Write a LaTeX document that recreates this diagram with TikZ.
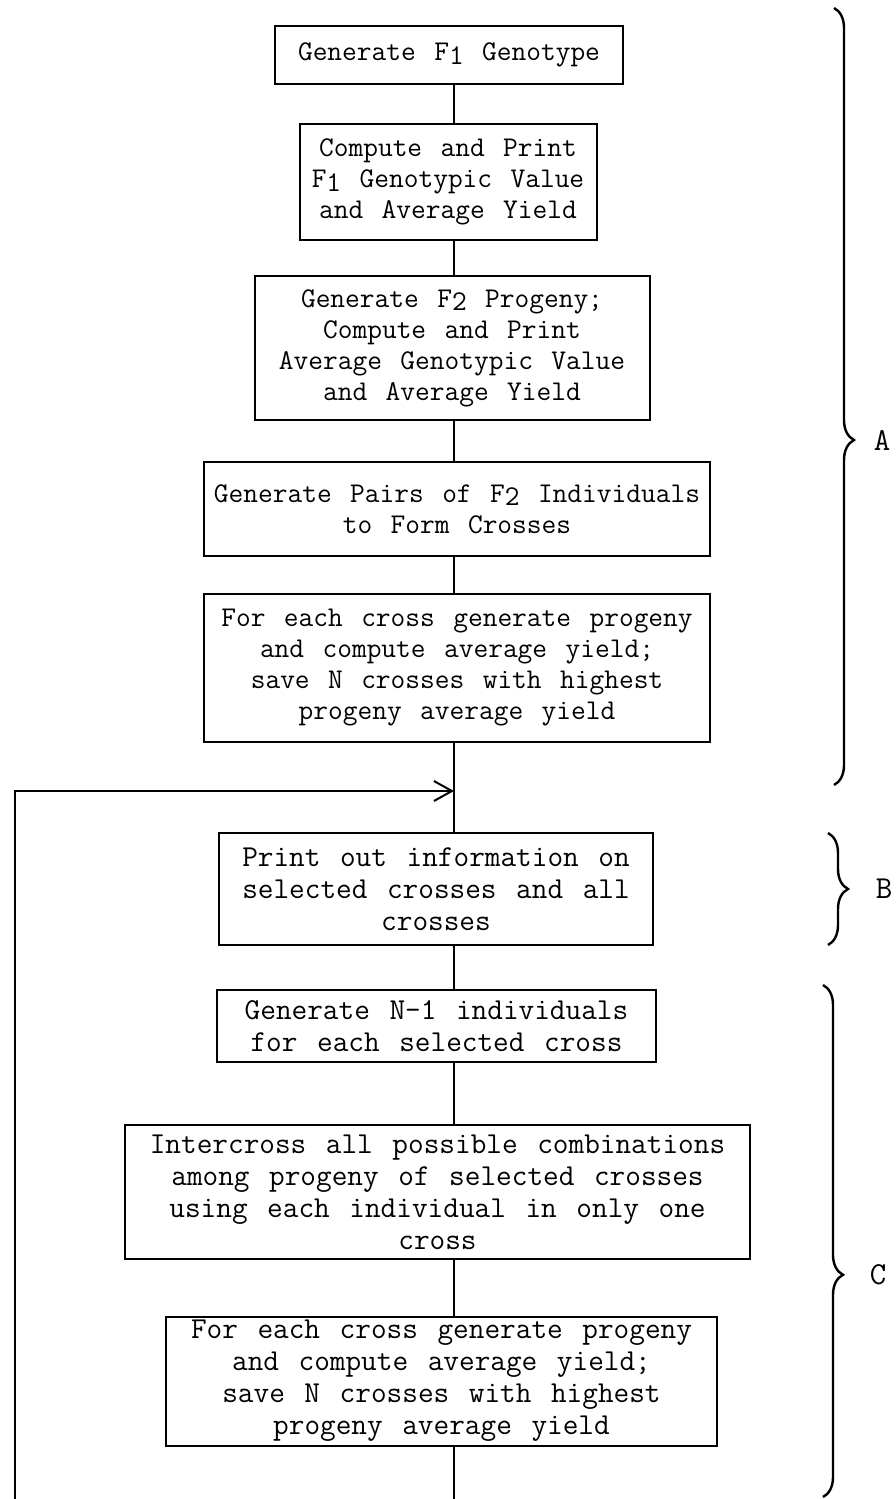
\documentclass[tikz,border=0pt]{standalone}
\usepackage{fontspec}
\newfontfamily\typer{Latin Modern Mono}[WordSpace=1.25]
\usepackage{tikz}
\usetikzlibrary{arrows.meta,decorations.pathreplacing}

\newcommand{\Fsub}[1]{F\raisebox{-0.3ex}{#1}}

\begin{document}
\begin{tikzpicture}[x=0.5pt,y=-0.5pt]
	\tikzstyle{box}=[rectangle,draw,line width=1pt,align=center,inner sep=0pt,font=\typer\fontsize{14.3}{15.5}\selectfont]
	\tikzstyle{lowbox}=[box,font=\typer\fontsize{15.2}{16}\selectfont]
	\tikzstyle{flow}=[line width=0.8pt]
	\tikzstyle{back}=[line width=1pt,-{Straight Barb[length=9pt,width=10pt]}]
	\tikzstyle{brc}=[decorate,decoration={brace,amplitude=10pt},line width=1.2pt]
	\tikzstyle{tag}=[font=\typer\fontsize{16}{18}\selectfont]
	\useasboundingbox (0,0) rectangle (895,1499);
	\node (b1) at (449,55)     [box,minimum width=174pt,minimum height=29pt] {Generate \Fsub{1} Genotype};
	\node (b2) at (448,182)    [box,minimum width=148.5pt,minimum height=58pt] {Compute and Print\\\Fsub{1} Genotypic Value\\and Average Yield};
	\node (b3) at (452,348)    [box,minimum width=197.5pt,minimum height=72pt] {Generate \Fsub{2} Progeny;\\Compute and Print\\Average Genotypic Value\\and Average Yield};
	\node (b4) at (457,509)    [box,minimum width=253pt,minimum height=47pt] {Generate Pairs of \Fsub{2} Individuals\\to Form Crosses};
	\node (b5) at (457,668)    [box,minimum width=253pt,minimum height=74pt] {For each cross generate progeny\\and compute average yield;\\save N crosses with highest\\progeny average yield};
	\node (b6) at (436,889)    [lowbox,minimum width=217pt,minimum height=56pt] {Print out information on\\selected crosses and all\\crosses};
	\node (b7) at (436.5,1026) [lowbox,minimum width=219.5pt,minimum height=36pt] {Generate N-1 individuals\\for each selected cross};
	\node (b8) at (437.5,1192) [lowbox,minimum width=312.5pt,minimum height=67pt] {Intercross all possible combinations\\among progeny of selected crosses\\using each individual in only one\\cross};
	\node (b9) at (441.5,1381) [lowbox,minimum width=275.5pt,minimum height=64.5pt] {For each cross generate progeny\\and compute average yield;\\save N crosses with highest\\progeny average yield};
	\coordinate (spine) at (454,0);
	\coordinate (join) at (454,791);
	\coordinate (loopEnd) at (15,1499);
	\coordinate (tail) at (454,1499);
	\draw [flow] (b1.south -| spine) -- (b2.north -| spine);
	\draw [flow] (b2.south -| spine) -- (b3.north -| spine);
	\draw [flow] (b3.south -| spine) -- (b4.north -| spine);
	\draw [flow] (b4.south -| spine) -- (b5.north -| spine);
	\draw [flow] (b5.south -| spine) -- (b6.north -| spine);
	\draw [flow] (b6.south -| spine) -- (b7.north -| spine);
	\draw [flow] (b7.south -| spine) -- (b8.north -| spine);
	\draw [flow] (b8.south -| spine) -- (b9.north -| spine);
	\draw [flow] (b9.south -| spine) -- (tail);
	\draw [back] (loopEnd) |- (join);
	% braces on the right
	\coordinate (aTop) at (834,8);
	\coordinate (aBot) at (834,785);
	\coordinate (bTop) at (828,833);
	\coordinate (bBot) at (828,945);
	\coordinate (cTop) at (823,985);
	\coordinate (cBot) at (823,1497);
	\draw [brc,decoration={aspect=0.556}] (aTop) -- (aBot);
	\draw [brc] (bTop) -- (bBot);
	\draw [brc,decoration={aspect=0.566}] (cTop) -- (cBot);
	\node (labA) at (882,440)  [tag] {A};
	\node (labB) at (884,889)  [tag] {B};
	\node (labC) at (878,1275) [tag] {C};
\end{tikzpicture}
\end{document}
